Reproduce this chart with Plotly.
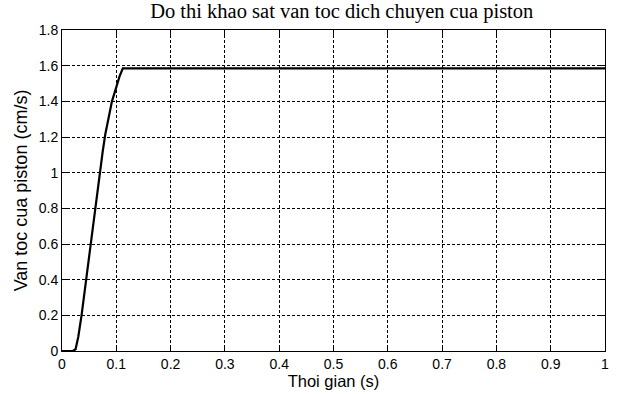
import plotly.graph_objects as go

time_s = [0, 0.02, 0.025, 0.03, 0.036, 0.045, 0.055, 0.065, 0.075, 0.08, 0.086, 0.092, 0.1, 0.106, 0.112, 1.0]
velocity = [0, 0, 0.01, 0.08, 0.2, 0.42, 0.66, 0.9, 1.12, 1.22, 1.32, 1.4, 1.48, 1.54, 1.585, 1.585]

x_ticks = [0, 0.1, 0.2, 0.3, 0.4, 0.5, 0.6, 0.7, 0.8, 0.9, 1.0]
x_labels = ["0", "0.1", "0.2", "0.3", "0.4", "0.5", "0.6", "0.7", "0.8", "0.9", "1"]
y_ticks = [0, 0.2, 0.4, 0.6, 0.8, 1.0, 1.2, 1.4, 1.6, 1.8]
y_labels = ["0", "0.2", "0.4", "0.6", "0.8", "1", "1.2", "1.4", "1.6", "1.8"]

fig = go.Figure()
fig.add_trace(go.Scatter(x=time_s, y=velocity, mode="lines",
                         line=dict(color="black", width=2.2), showlegend=False))

axis_common = dict(showline=True, linecolor="black", linewidth=1, mirror="ticks",
                   ticks="inside", ticklen=5, tickcolor="black", automargin=False,
                   showgrid=True, gridcolor="black", gridwidth=1, griddash="3px,2px",
                   zeroline=False, tickfont=dict(family="Liberation Sans, Arial", size=14, color="black"))

fig.update_xaxes(range=[0, 1], tickvals=x_ticks, ticktext=x_labels,
                 title=dict(text="Thoi gian (s)", font=dict(family="Liberation Sans, Arial", size=16.5, color="black"), standoff=2),
                 **axis_common)
fig.update_yaxes(range=[0, 1.8], tickvals=y_ticks, ticktext=y_labels,
                 title=dict(text="Van toc cua piston (cm/s)", font=dict(family="Liberation Sans, Arial", size=18, color="black"), standoff=6),
                 **axis_common)

fig.update_layout(
    width=618, height=394,
    margin=dict(l=62, r=13, t=30, b=43),
    paper_bgcolor="white", plot_bgcolor="white",
    title=dict(text="Do thi khao sat van toc dich chuyen cua piston",
               font=dict(family="Liberation Serif, Times New Roman", size=20.5, color="black"),
               x=0.553, xanchor="center", y=0.972, yanchor="middle"),
)

fig.write_html("out.html", config={"displayModeBar": False},
               post_script="document.body.style.margin='0';")
